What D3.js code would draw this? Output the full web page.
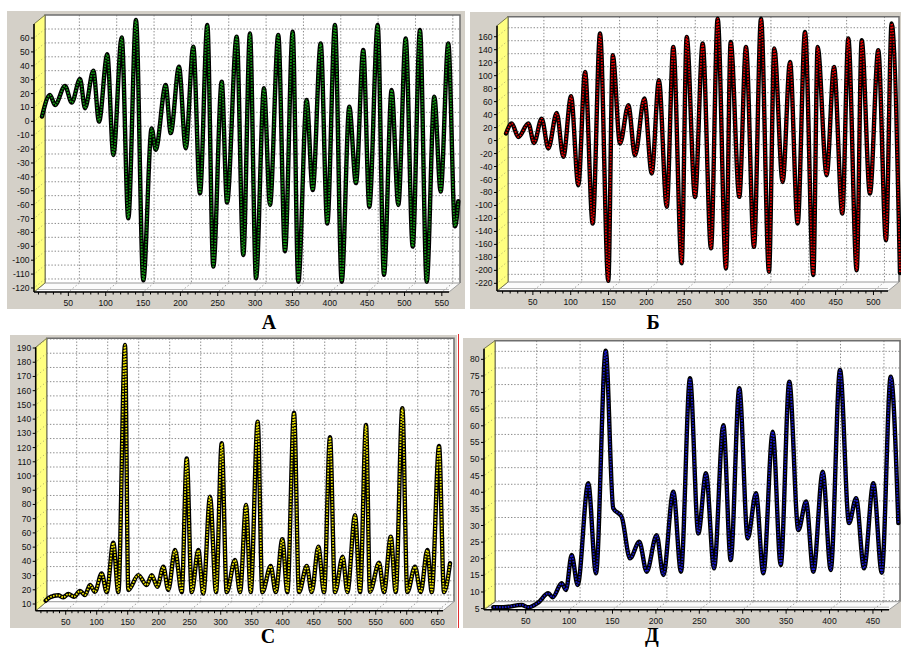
<!DOCTYPE html>
<html><head><meta charset="utf-8">
<script src="https://cdn.jsdelivr.net/npm/d3@7"></script>
<style>body{margin:0;background:#fff}</style>
</head><body>
<svg id="c" width="901" height="648"></svg>
<script>
// ---- Panel А ----
const aX = [0,10.7,17.4,30.8,39.8,50.9,57.6,68.7,76.3,87.4,95.5,106.7,115.5,125.8,135.6,146.8,152.2,165.6,172.3,183.4,192.4,202.5,211.5,221.3,229.3,240.6,247.7,260.6,269.5,278.4,286.5,297.2,305.2,316.3,325.3,335.6,343.1,354.3,362.4,373.1,381.9,392.2,401.2,411.4,420.3,430.1,438.2,449.4,457.8,468.1,477,486.9,496.3,506,515,525.2,533.7,543.9,552.9,557.3];
const aY = [-3,12.5,5.3,19,7,24,2.9,30,-6.7,41.8,-30.7,54,-76.3,66.5,-121,-11.6,-27,19.7,-15,32.9,-25.9,47.3,-58.3,62.9,-111,22,-65,54.5,-102.7,56.9,-119.5,17.3,-66.7,55.7,-100,58,-122,8.9,-56,49.7,-80,62.9,-122,4,-51,44.9,-68,62.9,-117,16.1,-66.7,53.3,-96.7,59.3,-122,11.3,-57,49.7,-82,-64];
const aXTicks = [50,100,150,200,250,300,350,400,450,500,550];
const aYTicks = [-120,-110,-100,-90,-80,-70,-60,-50,-40,-30,-20,-10,0,10,20,30,40,50,60];

// ---- Panel Б ----
const bX = [0,7.5,16.3,29.5,37,47.1,55.9,67,75.7,85.9,95.5,104.4,114.5,124.2,135.1,141,150.6,161.6,170.4,182.7,192.5,202,212.3,221,232,238.7,249.7,259.8,270.8,279.6,290.6,296.8,308.2,317,327.6,336.9,347.4,354.4,365.5,375.2,385.3,395,406,411.7,423.6,433.3,444.3,452.2,463.3,469.9,480.8,491.8,502,509.5,520.5];
const bY = [-3,12.4,-8.3,12.4,-17.5,20,-26,28.7,-39,54.4,-82.7,91.9,-141.7,151,-230,117.6,-18.4,40.6,-36.5,50.9,-64.6,79,-116,130.4,-203,145.8,-100.7,135.6,-180,174,-211,138,-100.7,130.4,-177.7,174,-216,128,-77.6,107.3,-141.7,153.5,-221,130.4,-67.3,99.6,-126.3,143.4,-213.7,140.7,-95.5,125.3,-167.4,166.5,-218];
const bXTicks = [50,100,150,200,250,300,350,400,450,500];
const bYTicks = [-220,-200,-180,-160,-140,-120,-100,-80,-60,-40,-20,0,20,40,60,80,100,120,140,160];

// ---- Panel С ----
const cX = [0,6.9,20.3,28.4,36.5,45.6,55.3,63.4,71.5,79.5,90.3,98.4,109,117.1,127.9,133.2,149.4,162.9,171,180,189.7,197.7,208.5,219.4,227.4,235.5,246.1,254.2,265,274.7,283.9,291.9,305.3,313.4,323.1,330.6,341.9,349.4,362.9,371,381.6,389.7,400.5,408.5,421,429,439.7,448.9,458.5,466.6,479,486.5,498.9,507,516.6,523,537.6,545.6,556.5,564.5,575.2,583.2,595.6,604.8,615.5,622.6,634.4,642.4,652.1];
const cY = [6,8.4,9.8,8.4,10.7,8.8,12.8,10,17,12.3,25.2,12,46.8,12,185.8,13.5,24,17,24,15.8,29.9,13.5,41.6,12,106,12,41.6,11,79.1,12,116.7,12,34.6,12,73.3,12,131.9,12,30.4,12,49.2,12,138.2,12,30.4,12,44,12,120.9,12,37,12,66.2,12,129.5,12.3,32.7,12,51,12,141.3,12,29.9,12,41.6,12,114.8,12,32.3];
const cXTicks = [50,100,150,200,250,300,350,400,450,500,550,600,650];
const cYTicks = [10,20,30,40,50,60,70,80,90,100,110,120,130,140,150,160,170,180,190];

// ---- Panel Д ----
const dX = [0,11.5,32.7,40.3,51.8,63.4,68.4,78.8,83.8,90.3,97.2,109.4,118.3,129.5,138.2,147.9,157.5,168.2,176.7,188.2,195.9,207.4,216.2,226.6,236.2,245,254.3,265,273.5,283.4,293.1,302.6,311.1,321.9,331.1,341,351.4,360.3,368.7,379.5,388.7,399.4,409.8,417.9,427.1,437.8,447.5,457.8,466.6];
const dY = [3,3,3.7,3,4.4,7.2,6,10.2,8.2,18.7,9.7,40.3,13.2,80.2,32.8,30.2,17.7,22.7,13.7,24.7,12.7,37.8,13.7,71.9,25.2,43.3,14.7,57.8,17.2,68.9,23.7,37.3,13.2,55.8,15.7,70.9,26.2,34.8,13.7,43.8,14.2,74.4,28.3,35.8,14.7,40.3,13.4,72.4,28.3];
const dXTicks = [50,100,150,200,250,300,350,400,450];
const dYTicks = [5,10,15,20,25,30,35,40,45,50,55,60,65,70,75,80];

const captions = ["А","Б","С","Д"];

const panels = [
  {cap:captions[0], xs:aX, ys:aY, xt:aXTicks, yt:aYTicks, color:"#129a12",
   box:[7,11,465,309], back:[45,15,460,283], xdom:[4,559.6], ydom:[-122.9,70.1], dx:11, dy:9, capPos:[269,329]},
  {cap:captions[1], xs:bX, ys:bY, xt:bXTicks, yt:bYTicks, color:"#e80000",
   box:[470,12,901,309], back:[508,16.7,899,282], xdom:[2.6,519.2], ydom:[-231.8,177], dx:11, dy:9, capPos:[653,329]},
  {cap:captions[2], xs:cX, ys:cY, xt:cXTicks, yt:cYTicks, color:"#f0e800",
   box:[10,335,457,628], back:[46.7,338.3,454,601.7], xdom:[1.6,658.5], ydom:[5.3,190.5], dx:11, dy:9, capPos:[268,643]},
  {cap:captions[3], xs:dX, ys:dY, xt:dXTicks, yt:dYTicks, color:"#1a1ad0",
   box:[463,338,901,628], back:[495,340.7,900,601.7], xdom:[2,468.5], ydom:[4.67,83.2], dx:11, dy:8, capPos:[652,642]}
];

const svg = d3.select("#c");

panels.forEach((p, pi) => {
  const g = svg.append("g");
  const [bx0, by0, bx1, by1] = p.back;
  const dx = p.dx, dy = p.dy;
  const x = d3.scaleLinear().domain(p.xdom).range([bx0, bx1]);
  const y = d3.scaleLinear().domain(p.ydom).range([by1, by0]);

  // gray panel
  g.append("rect").attr("x", p.box[0]).attr("y", p.box[1])
    .attr("width", p.box[2]-p.box[0]).attr("height", p.box[3]-p.box[1])
    .attr("fill", "#d4d0c8");

  // back wall
  g.append("rect").attr("x", bx0).attr("y", by0).attr("width", bx1-bx0).attr("height", by1-by0)
    .attr("fill", "#fff");

  // grid
  const grid = g.append("g").attr("stroke", "#8a8a8a").attr("stroke-width", 1).attr("stroke-dasharray", "1.4,1.8");
  p.yt.forEach(v => {
    grid.append("line").attr("x1", bx0).attr("x2", bx1).attr("y1", y(v)).attr("y2", y(v));
  });
  p.xt.forEach(v => {
    grid.append("line").attr("x1", x(v)).attr("x2", x(v)).attr("y1", by0).attr("y2", by1);
  });

  // back wall frame
  g.append("path").attr("d", `M${bx0},${by1}V${by0}H${bx1}V${by1}`)
    .attr("fill", "none").attr("stroke", "#6e6e6e").attr("stroke-width", 1.5);

  // floor
  g.append("path").attr("d", `M${bx0},${by1}H${bx1}L${bx1-dx},${by1+dy}H${bx0-dx}Z`)
    .attr("fill", "#fbfbfb").attr("stroke", "#9a9a9a").attr("stroke-width", 1);
  g.append("line").attr("x1", bx0-dx).attr("x2", bx1-dx).attr("y1", by1+dy-2.5).attr("y2", by1+dy-2.5)
    .attr("stroke", "#b8b8b8").attr("stroke-width", 1);
  const fg = g.append("g").attr("stroke", "#9a9a9a").attr("stroke-width", 1).attr("stroke-dasharray", "1.4,2.2");
  p.xt.forEach(v => {
    fg.append("line").attr("x1", x(v)).attr("y1", by1).attr("x2", x(v)-dx).attr("y2", by1+dy);
  });

  // left wall (yellow)
  g.append("path").attr("d", `M${bx0},${by0}V${by1}L${bx0-dx},${by1+dy}V${by0+dy}Z`)
    .attr("fill", "#ffff80").attr("stroke", "#7a7a50").attr("stroke-width", 1);
  const wg = g.append("g").attr("stroke", "#a0a060").attr("stroke-width", 0.8).attr("stroke-dasharray", "1.2,2.4");
  p.yt.forEach(v => {
    wg.append("line").attr("x1", bx0).attr("y1", y(v)).attr("x2", bx0-dx).attr("y2", y(v)+dy);
  });

  // series
  const line = d3.line().x((d, i) => x(p.xs[i])).y(d => y(d)).curve(d3.curveMonotoneX);
  g.append("path").attr("d", line(p.ys)).attr("fill", "none")
    .attr("stroke", "#000").attr("stroke-width", 4.4).attr("stroke-linejoin", "round").attr("stroke-linecap", "round");
  g.append("path").attr("d", line(p.ys)).attr("fill", "none")
    .attr("stroke", p.color).attr("stroke-width", 1.8).attr("stroke-dasharray", "1.6,1.3");

  // axes (front)
  const ax = bx0 - dx, ayTop = by0 + dy, ayBot = by1 + dy;
  g.append("line").attr("x1", ax).attr("x2", ax).attr("y1", ayTop).attr("y2", ayBot)
    .attr("stroke", "#000").attr("stroke-width", 1.5);
  g.append("line").attr("x1", ax).attr("x2", bx1 - dx).attr("y1", ayBot).attr("y2", ayBot)
    .attr("stroke", "#000").attr("stroke-width", 1.5);

  const tg = g.append("g").attr("stroke", "#000").attr("stroke-width", 1);
  p.yt.forEach(v => {
    tg.append("line").attr("x1", ax-3).attr("x2", ax).attr("y1", y(v)+dy).attr("y2", y(v)+dy);
  });
  const minor = d3.range(10, p.xdom[1], 10);
  minor.forEach(v => {
    const big = v % 50 === 0;
    tg.append("line").attr("x1", x(v)-dx).attr("x2", x(v)-dx).attr("y1", ayBot).attr("y2", ayBot + (big ? 4 : 2.5));
  });

  const lab = g.append("g").attr("font-family", "'Liberation Sans', Arial, sans-serif")
    .attr("font-size", "8.6px").attr("fill", "#111");
  p.yt.forEach(v => {
    lab.append("text").attr("x", ax-4.5).attr("y", y(v)+dy+3).attr("text-anchor", "end").text(v);
  });
  p.xt.forEach(v => {
    lab.append("text").attr("x", x(v)-dx).attr("y", ayBot+14).attr("text-anchor", "middle").text(v);
  });

  // caption
  svg.append("text").attr("x", p.capPos[0]).attr("y", p.capPos[1]).attr("text-anchor", "middle")
    .attr("font-family", "'Liberation Serif', 'Times New Roman', serif").attr("font-weight", "bold")
    .attr("font-size", "20px").attr("fill", "#000").text(p.cap);
});

// thin red border at the right of panel С
svg.append("line").attr("x1", 458.5).attr("x2", 458.5).attr("y1", 334).attr("y2", 628)
  .attr("stroke", "#e03030").attr("stroke-width", 1);
</script>
</body></html>
